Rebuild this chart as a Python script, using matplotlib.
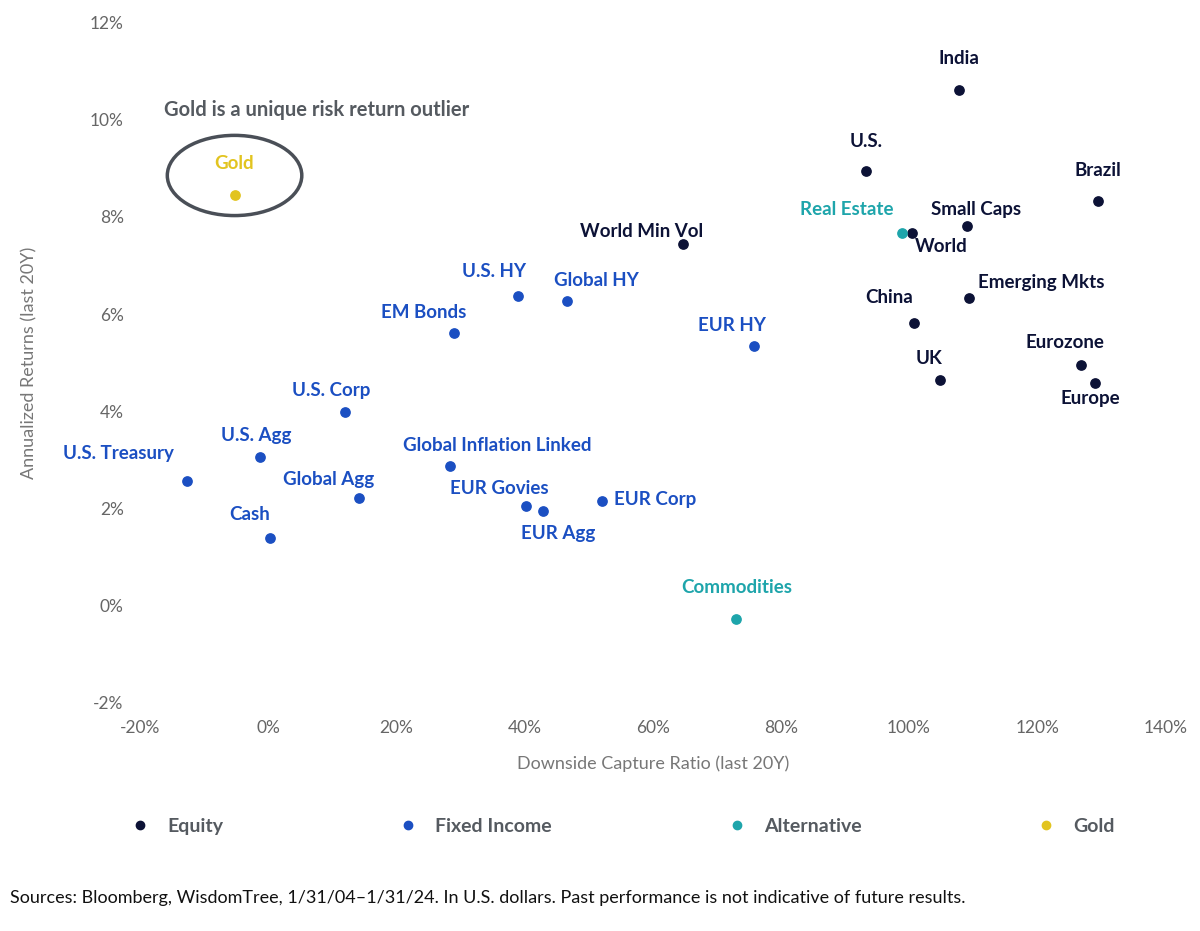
import matplotlib
matplotlib.use("Agg")
import matplotlib.pyplot as plt
from matplotlib.patches import Ellipse
from matplotlib.lines import Line2D

plt.rcParams['font.family'] = ['Lato', 'DejaVu Sans']

names = ["India", "U.S.", "Brazil", "Small Caps", "World", "World Min Vol", "Emerging Mkts",
         "China", "UK", "Eurozone", "Europe",
         "U.S. HY", "Global HY", "EM Bonds", "EUR HY", "U.S. Corp", "U.S. Agg", "U.S. Treasury",
         "Global Inflation Linked", "Global Agg", "EUR Govies", "EUR Agg", "EUR Corp", "Cash",
         "Real Estate", "Commodities", "Gold"]
groups = ["Equity"] * 11 + ["Fixed Income"] * 13 + ["Alternative"] * 2 + ["Gold"]
downside = [107.8, 93.3, 129.5, 109.0, 100.5, 64.7, 109.4, 100.8, 104.8, 126.9, 129.0,
            39.0, 46.6, 28.9, 75.8, 12.0, -1.4, -12.7, 28.4, 14.2, 40.2, 42.8, 52.0, 0.2,
            98.9, 73.0, -5.2]
returns = [10.6, 8.95, 8.33, 7.82, 7.67, 7.43, 6.32, 5.82, 4.65, 4.96, 4.59,
           6.38, 6.26, 5.60, 5.35, 3.99, 3.05, 2.57, 2.88, 2.22, 2.06, 1.95, 2.16, 1.40,
           7.67, -0.27, 8.44]
xticks = [-20, 0, 20, 40, 60, 80, 100, 120, 140]
yticks = [-2, 0, 2, 4, 6, 8, 10, 12]

colors = {"Equity": "#0c1236", "Fixed Income": "#1b4fc2", "Alternative": "#1ea5ab", "Gold": "#e2c420"}
offsets = {"India": (0, 32), "U.S.": (0, 29), "Brazil": (0, 30), "Small Caps": (9, 16),
           "World": (29, -14), "World Min Vol": (-41, 13), "Emerging Mkts": (72, 16),
           "China": (-25, 25), "UK": (-11, 21), "Eurozone": (-16, 22), "Europe": (-4, -16),
           "U.S. HY": (-24, 24), "Global HY": (29, 21), "EM Bonds": (-30, 21), "EUR HY": (-22, 20),
           "U.S. Corp": (-14, 21), "U.S. Agg": (-3, 22), "U.S. Treasury": (-69, 27),
           "Global Inflation Linked": (47, 20), "Global Agg": (-31, 18), "EUR Govies": (-27, 17),
           "EUR Agg": (16, -23), "EUR Corp": (54, 1), "Cash": (-20, 23),
           "Real Estate": (-55, 23), "Commodities": (1, 31), "Gold": (-1, 32)}

fig = plt.figure(figsize=(12, 9.31), dpi=100)
ax = fig.add_axes([0.117, 0.245, 0.854, 0.731])
for n, g, x, y in zip(names, groups, downside, returns):
    ax.scatter(x, y, s=45, color=colors[g], zorder=3)
    dx, dy = offsets[n]
    ax.annotate(n, (x, y), xytext=(dx, dy), textcoords='offset pixels', ha='center', va='center',
                fontsize=13.5, fontweight='bold', color=colors[g])

ax.add_patch(Ellipse((-5.3, 8.85), 21, 1.65, fill=False, ec="#4a4f57", lw=2.5))
ax.text(7.5, 10.2, "Gold is a unique risk return outlier", ha='center', va='center',
        fontsize=14.5, fontweight='bold', color="#555a60")

ax.set_xlim(-20, 140)
ax.set_ylim(-2, 12)
ax.set_xticks(xticks)
ax.set_xticklabels([f"{t}%" for t in xticks])
ax.set_yticks(yticks)
ax.set_yticklabels([f"{t}%" for t in yticks])
ax.tick_params(length=0, labelsize=12.5, labelcolor="#666666", pad=12)
for s in ax.spines.values():
    s.set_visible(False)
ax.set_xlabel("Downside Capture Ratio (last 20Y)", fontsize=13, color="#777777", labelpad=14)
ax.set_ylabel("Annualized Returns (last 20Y)", fontsize=13, color="#777777", labelpad=38)

handles = [Line2D([], [], marker='o', ls='', color=c, markersize=6) for c in colors.values()]
leg = fig.legend(handles, list(colors.keys()), loc='center', bbox_to_anchor=(0.515, 0.112), ncol=4,
                 frameon=False, columnspacing=8.5, handletextpad=0.4, prop={'size': 14, 'weight': 'bold'})
for t in leg.get_texts():
    t.set_color("#555a60")

fig.text(0.008, 0.03, "Sources: Bloomberg, WisdomTree, 1/31/04\u20131/31/24. In U.S. dollars. Past performance is not indicative of future results.",
         fontsize=13, color="#111111")
fig.savefig("out.png", dpi=100)
